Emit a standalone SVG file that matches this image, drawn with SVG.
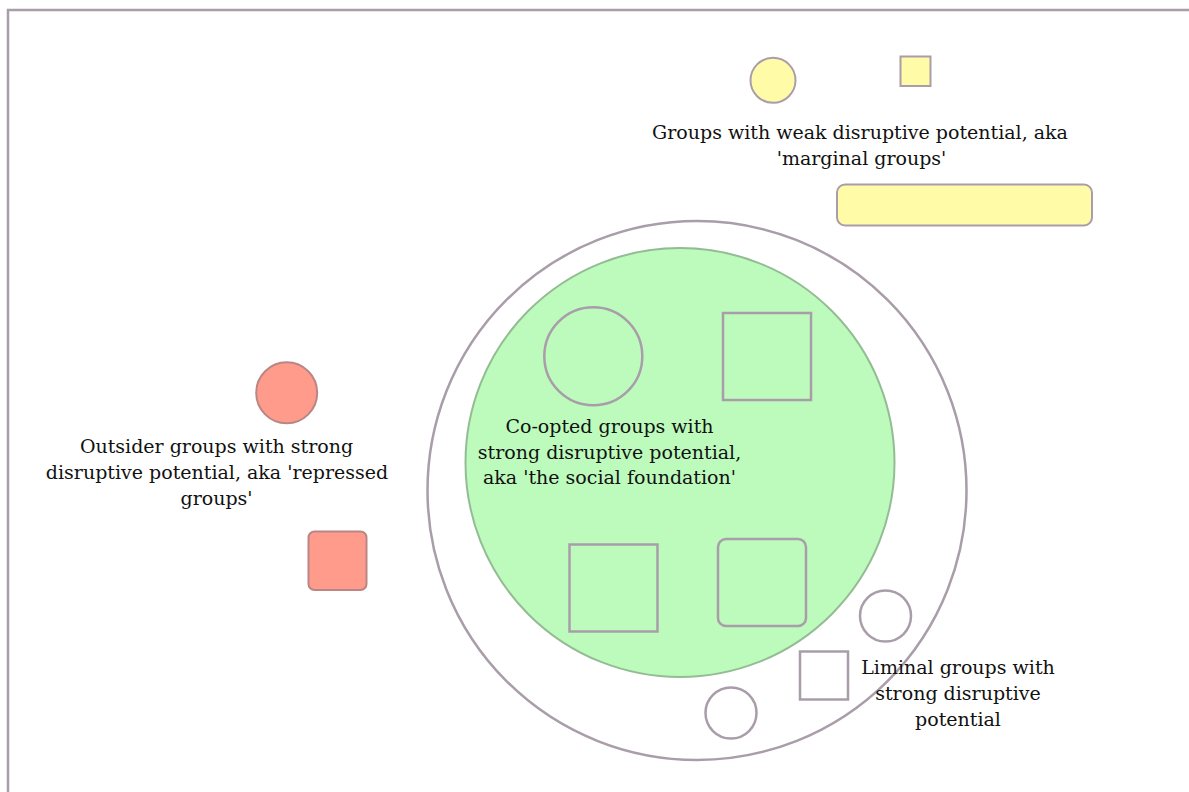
<svg xmlns="http://www.w3.org/2000/svg" width="1189" height="792" viewBox="0 0 1189 792">
<style>
.lbl{font-family:"DejaVu Serif","Liberation Serif",serif;font-size:19px;fill:#111111;text-anchor:middle}
.gfill{fill:#bdfbbd;stroke:#a99da9;stroke-width:2.5}
.wfill{fill:#ffffff;stroke:#a99da9;stroke-width:2.5}
.yel{fill:#fffba6;stroke:#a99da9;stroke-width:2}
.red{fill:#ff9b8a;stroke:#b98585;stroke-width:2}
</style>
<rect x="0" y="0" width="1189" height="792" fill="#ffffff"/>
<rect id="frame" x="8" y="10" width="1200" height="800" fill="none" stroke="#a99da9" stroke-width="2.5"/>
<g id="outer-ring"><circle cx="697" cy="490.5" r="269.5" class="wfill"/></g>
<g id="social-foundation">
<circle cx="680" cy="462.5" r="214.5" fill="#bdfbbd" stroke="#94bc94" stroke-width="2"/>
<text class="lbl"><tspan x="609.5" y="433">Co-opted groups with</tspan><tspan x="609.5" y="458.5">strong disruptive potential,</tspan><tspan x="609.5" y="484">aka 'the social foundation'</tspan></text>
</g>
<g id="coopted-circle"><circle cx="593.3" cy="356.3" r="49" class="gfill"/></g>
<g id="coopted-square"><rect x="723" y="313" width="88" height="87" class="gfill"/></g>
<g id="coopted-square2"><rect x="569.5" y="544.5" width="88" height="87" class="gfill"/></g>
<g id="coopted-rounded"><rect x="718" y="539" width="88" height="87" rx="8" class="gfill"/></g>
<g id="liminal-circle1"><circle cx="885.5" cy="616" r="25.5" class="wfill"/></g>
<g id="liminal-square"><rect x="800" y="651.5" width="48" height="48" class="wfill"/></g>
<g id="liminal-circle2"><circle cx="731" cy="713" r="25.5" class="wfill"/></g>
<g id="liminal-label"><text class="lbl"><tspan x="958" y="674">Liminal groups with</tspan><tspan x="958" y="700">strong disruptive</tspan><tspan x="958" y="725.5">potential</tspan></text></g>
<g id="marginal-circle"><circle cx="773" cy="80.3" r="22.5" class="yel"/></g>
<g id="marginal-square"><rect x="900.5" y="56.5" width="30" height="29.5" class="yel"/></g>
<g id="marginal-label"><text class="lbl"><tspan x="860" y="139">Groups with weak disruptive potential, aka</tspan><tspan x="861.5" y="164.5">'marginal groups'</tspan></text></g>
<g id="marginal-bar"><rect x="837" y="184.5" width="255" height="41" rx="8" class="yel"/></g>
<g id="repressed-circle"><circle cx="286.7" cy="392.8" r="30.5" class="red"/></g>
<g id="repressed-label"><text class="lbl"><tspan x="216.5" y="453">Outsider groups with strong</tspan><tspan x="217" y="479">disruptive potential, aka 'repressed</tspan><tspan x="216.5" y="505">groups'</tspan></text></g>
<g id="repressed-square"><rect x="308.5" y="531.5" width="58" height="58.5" rx="6" class="red"/></g>
<g id="connectors"></g>
</svg>
